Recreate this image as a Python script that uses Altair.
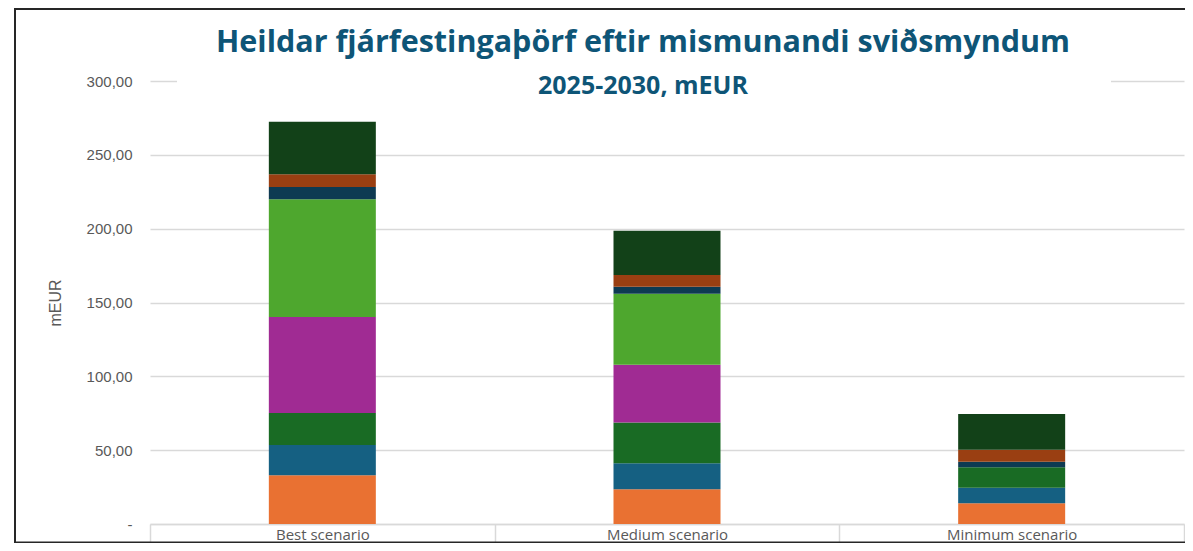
import altair as alt
import pandas as pd

# ---------------- data ----------------
scenarios = ["Best scenario", "Medium scenario", "Minimum scenario"]
series = ["Flokkur 1", "Flokkur 2", "Flokkur 3", "Flokkur 4",
          "Flokkur 5", "Flokkur 6", "Flokkur 7", "Flokkur 8"]
colors = ["#E97132", "#156082", "#196B24", "#A02B93",
          "#4EA72E", "#0E3A52", "#9A3F12", "#124118"]
best = [33.0, 20.5, 21.7, 65.0, 79.8, 8.2, 8.6, 35.6]
medium = [23.5, 17.6, 27.7, 39.1, 48.0, 4.8, 7.9, 30.0]
minimum = [14.0, 10.6, 13.8, 0.0, 0.0, 3.8, 8.1, 24.2]
y_ticks = [0, 50, 100, 150, 200, 250, 300]

rows = []
for scen, vals in zip(scenarios, [best, medium, minimum]):
    for k, (ser, v) in enumerate(zip(series, vals)):
        rows.append({"scenario": scen, "series": ser, "order": k, "value": v})
df = pd.DataFrame(rows)

PLOT_W = 1034
PLOT_H = 443
PAD = {"left": 142, "top": 73, "right": 1, "bottom": 19}
GRAY = "#595959"
GRID = "#d9d9d9"
FRAME = "#262626"

bars = alt.Chart(df).mark_bar(size=107).encode(
    x=alt.X(
        "scenario:N",
        sort=scenarios,
        scale=alt.Scale(paddingInner=0, paddingOuter=0),
        axis=alt.Axis(
            title=None,
            labelAngle=0,
            labelFont="Open Sans",
            labelFontSize=15,
            labelColor=GRAY,
            labelBaseline="alphabetic",
            labelPadding=-11,
            domain=True,
            domainColor=GRID,
            domainWidth=1.5,
            ticks=True,
            tickBand="extent",
            tickSize=26,
            tickColor=GRID,
            tickWidth=1.5,
            grid=False,
        ),
    ),
    y=alt.Y(
        "value:Q",
        stack="zero",
        scale=alt.Scale(domain=[0, 300], nice=False),
        axis=alt.Axis(
            title="mEUR",
            titleFont="Liberation Sans",
            titleFontSize=16,
            titleFontWeight="normal",
            titleColor=GRAY,
            titleAngle=-90,
            titleX=-95,
            titleY=PLOT_H / 2,
            titleAlign="center",
            titleBaseline="middle",
            values=y_ticks,
            labelExpr="datum.value == 0 ? '-\u00a0\u00a0' : replace(format(datum.value, '.2f'), '.', ',')",
            labelFont="Liberation Sans",
            labelFontSize=15,
            labelColor=GRAY,
            labelPadding=18,
            ticks=False,
            domain=False,
            grid=True,
            gridColor=GRID,
            gridWidth=1.5,
        ),
    ),
    color=alt.Color("series:N", sort=series,
                    scale=alt.Scale(domain=series, range=colors), legend=None),
    order=alt.Order("order:Q", sort="ascending"),
)

one = alt.Data(values=[{}])

# white box behind the title that hides part of the top gridline
title_box = alt.Chart(one).mark_rect(color="white").encode(
    x=alt.value(27), x2=alt.value(961), y=alt.value(-5), y2=alt.value(5)
)

frame_left = alt.Chart(one).mark_rule(color=FRAME, strokeWidth=2).encode(
    x=alt.value(-135), y=alt.value(-73), y2=alt.value(PLOT_H + PAD["bottom"])
)
frame_top = alt.Chart(one).mark_rule(color=FRAME, strokeWidth=2).encode(
    x=alt.value(-135), x2=alt.value(PLOT_W + PAD["right"]), y=alt.value(-72)
)
frame_bottom = alt.Chart(one).mark_rule(color=FRAME, strokeWidth=1.5).encode(
    x=alt.value(-135), x2=alt.value(PLOT_W + PAD["right"]), y=alt.value(PLOT_H + PAD["bottom"] - 0.75)
)

chart = alt.layer(bars, title_box, frame_left, frame_top, frame_bottom).properties(
    width=PLOT_W,
    height=PLOT_H,
    padding=PAD,
    autosize=alt.AutoSizeParams(type="none"),
    background="white",
    title=alt.Title(
        text="Heildar fjárfestingaþörf eftir mismunandi sviðsmyndum",
        subtitle="2025-2030, mEUR",
        font="Open Sans",
        fontSize=30.5,
        fontWeight="bold",
        color="#0E5577",
        subtitleFont="Open Sans",
        subtitleFontSize=25,
        subtitleFontWeight="bold",
        subtitleColor="#0E5577",
        subtitlePadding=16,
        anchor="middle",
        dx=-24,
        offset=-92,
    ),
).configure_view(stroke=None)

chart.save("out.html", embed_options={"renderer": "svg", "actions": False})
